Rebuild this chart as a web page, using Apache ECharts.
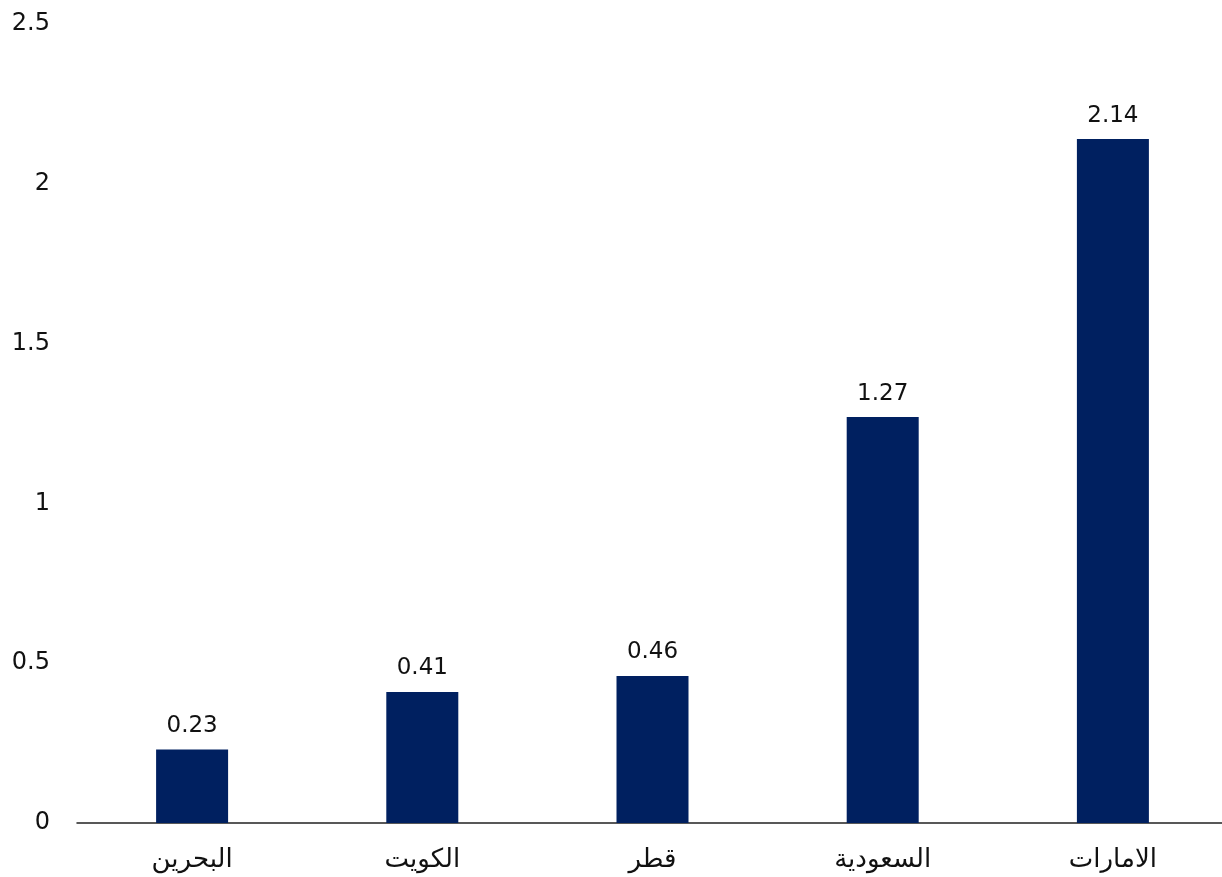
<!DOCTYPE html>
<html><head><meta charset="utf-8">
<script src="https://cdn.jsdelivr.net/npm/echarts@6/dist/echarts.min.js"></script>
<style>html,body{margin:0;padding:0;background:#fff;overflow:hidden}#c{width:1228px;height:877px}</style>
</head><body><div id="c"></div>
<script>
const categories = ["البحرين", "الكويت", "قطر", "السعودية", "الامارات"];
const values = [0.23, 0.41, 0.46, 1.27, 2.14];
const yTicks = { min: 0, max: 2.5, interval: 0.5 };
const numFont = "'DejaVu Sans', sans-serif";
const arFont = "'Noto Sans', 'DejaVu Sans', sans-serif";
const chart = echarts.init(document.getElementById('c'));
chart.setOption({
  animation: false,
  grid: { left: 77, right: 0, top: 24, bottom: 54, containLabel: false },
  xAxis: {
    type: 'category', data: categories,
    axisLine: { lineStyle: { color: '#222', width: 1.5 } },
    axisTick: { show: false },
    axisLabel: { color: '#111', fontSize: 26, fontFamily: arFont, margin: 24 }
  },
  yAxis: {
    type: 'value', min: yTicks.min, max: yTicks.max, interval: yTicks.interval,
    splitLine: { show: false },
    axisLine: { show: false }, axisTick: { show: false },
    axisLabel: { color: '#111', fontSize: 24, fontFamily: numFont, margin: 27,
      formatter: v => String(v) }
  },
  series: [{
    type: 'bar', data: values, barWidth: 72,
    itemStyle: { color: '#002060' },
    label: { show: true, position: 'top', distance: 12, color: '#111', fontSize: 23, fontFamily: numFont }
  }]
});
</script></body></html>
